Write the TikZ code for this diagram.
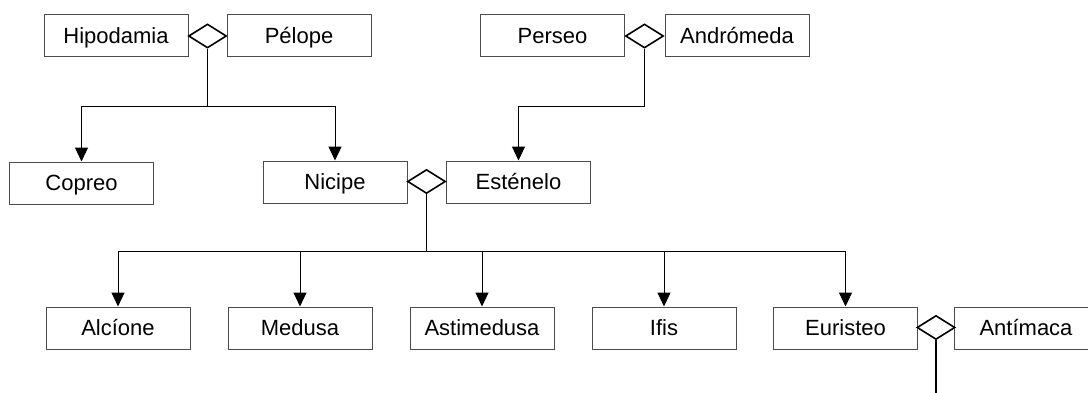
\documentclass[tikz,border=0pt]{standalone}
\usepackage{fontspec}
\setmainfont{Liberation Sans}
\usetikzlibrary{shapes.geometric,arrows.meta}

\tikzset{
  person/.style={draw=black!70, line width=1pt, rectangle, minimum width=144pt,
    minimum height=42pt, inner sep=0pt, text height=15.8pt, text depth=0pt,
    font=\fontsize{22}{26}\selectfont},
  union/.style={draw=black, line width=1.6pt, diamond, minimum width=38pt,
    minimum height=24pt, inner sep=0pt, fill=white},
  stem/.style={draw=black, line width=1.6pt},
  child/.style={draw=black, line width=1pt,
    -{Triangle[length=14pt,width=13pt]}},
}

\begin{document}
\begin{tikzpicture}[x=1pt, y=-1pt]
\useasboundingbox (0,0) rectangle (1088,392);

% first generation
\node[person] (hip) at (116,35.5) {Hipodamia};
\node[person] (pel) at (299,35.5) {Pélope};
\node[person] (per) at (552.5,35.5) {Perseo};
\node[person] (and) at (737,35.5) {Andrómeda};

% second generation
\node[person] (cop) at (81.5,183) {Copreo};
\node[person] (nic) at (335,182) {Nicipe};
\node[person] (ste) at (518.5,182) {Esténelo};

% third generation
\node[person] (alc) at (118,328) {Alcíone};
\node[person] (med) at (300,328) {Medusa};
\node[person] (ast) at (482,328) {Astimedusa};
\node[person] (ifi) at (664,328) {Ifis};
\node[person] (eur) at (845.5,328) {Euristeo};
\node[person] (ant) at (1026,328) {Antímaca};

% marriages
\node[union] (u1) at (207.5,36) {};
\node[union] (u2) at (644.5,36) {};
\node[union] (u3) at (426.5,181.5) {};
\node[union] (u4) at (936,327.5) {};

% branching points
\coordinate (f1) at (207.5,106);
\coordinate (f2) at (644.5,106);
\coordinate (f3) at (426.5,251);
\coordinate (f4) at (936,394);

% Hipodamia + Pélope
\draw[stem] (u1.south) -- (f1);
\draw[child] (f1) -| (cop.north);
\draw[child] (f1) -| (nic.north);

% Perseo + Andrómeda
\draw[stem] (u2.south) -- (f2);
\draw[child] (f2) -| (ste.north);

% Nicipe + Esténelo
\draw[stem] (u3.south) -- (f3);
\draw[child] (f3) -| (alc.north);
\draw[child] (f3) -| (med.north);
\draw[child] (f3) -| (ast.north);
\draw[child] (f3) -| (ifi.north);
\draw[child] (f3) -| (eur.north);

% Euristeo + Antímaca
\draw[stem] (u4.south) -- (f4);
\end{tikzpicture}
\end{document}
